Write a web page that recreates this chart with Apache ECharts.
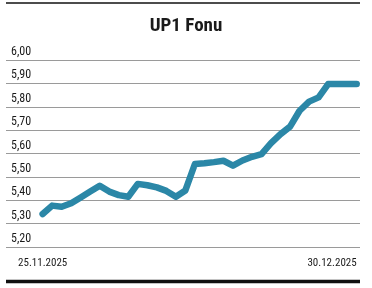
<!DOCTYPE html>
<html>
<head>
<meta charset="utf-8">
<script src="https://cdn.jsdelivr.net/npm/echarts@6/dist/echarts.min.js"></script>
<style>
html,body{margin:0;padding:0;background:#fff;}
#c{width:372px;height:288px;}
</style>
</head>
<body>
<div id="c"></div>
<script>
var titleText = 'UP1 Fonu';
var firstDate = '25.11.2025';
var lastDate = '30.12.2025';
var values = [5.341, 5.377, 5.372, 5.387, 5.412, 5.437, 5.462, 5.437, 5.422, 5.415,
  5.470, 5.464, 5.455, 5.440, 5.415, 5.442, 5.555, 5.558, 5.563, 5.569,
  5.548, 5.570, 5.586, 5.597, 5.644, 5.683, 5.715, 5.783, 5.822, 5.840,
  5.897, 5.897, 5.897, 5.897];
var yTicks = [5.2, 5.3, 5.4, 5.5, 5.6, 5.7, 5.8, 5.9, 6.0];

var font = '"Roboto Condensed", "Open Sans Condensed", sans-serif';
var lastIdx = values.length - 1;
var data = values.map(function (v, i) { return [i, v]; });

var chart = echarts.init(document.getElementById('c'), null, {renderer: 'canvas'});
var xCommon = {
  type: 'value', min: -3.85, max: lastIdx + 0.35,
  axisLine: {show: false}, axisTick: {show: false}, splitLine: {show: false}
};
chart.setOption({
  animation: false,
  title: {
    text: titleText, left: 'center', top: 12,
    textStyle: {fontFamily: font, fontWeight: 'bold', fontSize: 19, color: '#1a1a1a'}
  },
  grid: {left: 6, right: 12, top: 60, bottom: 41},
  xAxis: [
    Object.assign({}, xCommon, {
      axisLabel: {customValues: [0], margin: 11, fontFamily: font, fontSize: 11, color: '#1a1a1a',
        formatter: function () { return firstDate; }}
    }),
    Object.assign({}, xCommon, {
      position: 'bottom',
      axisLabel: {customValues: [lastIdx], align: 'right', margin: 11, fontFamily: font, fontSize: 11, color: '#1a1a1a',
        formatter: function () { return lastDate; }}
    })
  ],
  yAxis: {
    type: 'value', min: yTicks[0], max: yTicks[yTicks.length - 1], interval: 0.1,
    axisLine: {show: false}, axisTick: {show: false},
    splitLine: {lineStyle: {color: '#9a9a9a', width: 1}},
    axisLabel: {
      inside: true, margin: 5, verticalAlign: 'bottom', padding: [0, 0, 2, 0],
      fontFamily: font, fontSize: 12, color: '#1a1a1a',
      formatter: function (v) { return v.toFixed(2).replace('.', ','); }
    }
  },
  graphic: [
    {type: 'line', shape: {x1: 6, y1: 3, x2: 360, y2: 3}, style: {stroke: '#111', lineWidth: 1.5}},
    {type: 'line', shape: {x1: 6, y1: 281.5, x2: 360, y2: 281.5}, style: {stroke: '#111', lineWidth: 3.5}}
  ],
  series: [{
    type: 'line', data: data, xAxisIndex: 0, showSymbol: false,
    lineStyle: {color: '#2b87a7', width: 6.5, cap: 'round', join: 'round'}
  }]
});
</script>
</body>
</html>
